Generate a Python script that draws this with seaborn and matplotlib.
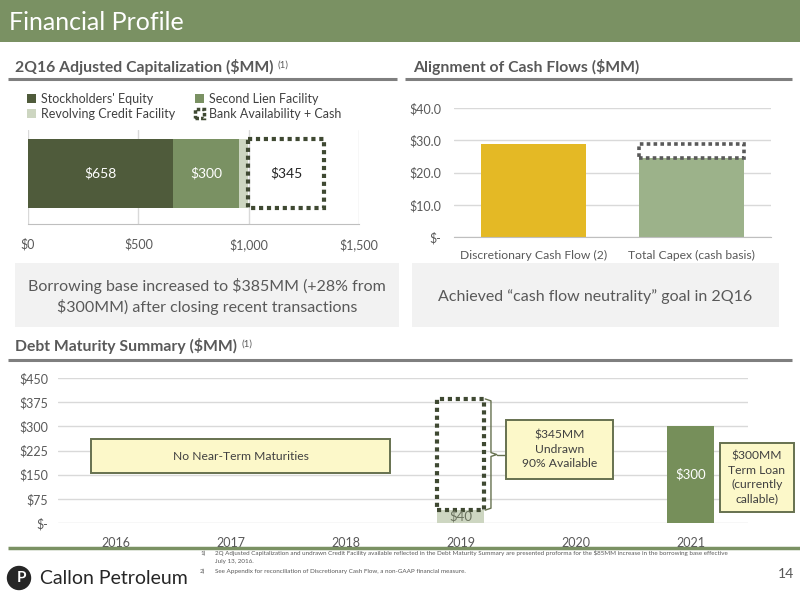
import numpy as np
import pandas as pd
import matplotlib
matplotlib.use("Agg")
import matplotlib.pyplot as plt
import seaborn as sns
from matplotlib.patches import Rectangle, Patch, Circle

# ---------------- data ----------------
cap_series = ["Stockholders' Equity", "Second Lien Facility",
              "Revolving Credit Facility", "Bank Availability + Cash"]
cap_values = [658, 300, 40, 345]
cap_ticks = [0, 500, 1000, 1500]
cap_tick_labels = ["$0", "$500", "$1,000", "$1,500"]

cf_categories = ["Discretionary Cash Flow (2)", "Total Capex (cash basis)"]
cf_values = [28.8, 24.5]
cf_ticks = [0, 10, 20, 30, 40]
cf_tick_labels = ["$-", "$10.0", "$20.0", "$30.0", "$40.0"]

debt_years = ["2016", "2017", "2018", "2019", "2020", "2021"]
debt_revolver = [0, 0, 0, 40, 0, 0]
debt_undrawn = [0, 0, 0, 345, 0, 0]
debt_term_loan = [0, 0, 0, 0, 0, 300]
debt_ticks = [0, 75, 150, 225, 300, 375, 450]
debt_tick_labels = ["$-", "$75", "$150", "$225", "$300", "$375", "$450"]

# ---------------- style ----------------
sns.set_style("white")
plt.rcParams["font.family"] = ["Lato", "DejaVu Sans"]

GREEN = "#7A9163"
EQUITY = "#4F5B3B"
REVOLVER = "#CDD6C1"
DOT = "#3F4932"
YELLOW = "#E4B925"
SAGE = "#9CB28A"
TERM = "#768F5A"
TXT = "#595959"
GRID = "#D9D9D9"
CALL_FILL = "#FCF8C9"
CALL_EDGE = "#66714F"
DOTSTYLE = (0, (1, 0.9))

W, H = 800, 600
fig = plt.figure(figsize=(8, 6), dpi=100)


def rect(x0, y0, x1, y1):
    return [x0 / W, 1 - y1 / H, (x1 - x0) / W, (y1 - y0) / H]


# background / foreground pixel-space axes
bg = fig.add_axes([0, 0, 1, 1], zorder=0)
bg.set_xlim(0, W); bg.set_ylim(H, 0); bg.axis("off")
fg = fig.add_axes([0, 0, 1, 1], zorder=10)
fg.set_xlim(0, W); fg.set_ylim(H, 0); fg.axis("off"); fg.patch.set_alpha(0)

# header band
bg.add_patch(Rectangle((0, 0), W, 42, color=GREEN, lw=0))
bg.text(9, 22, "Financial Profile", color="white", fontsize=18, va="center")

# section headings
def heading(x, y, s):
    t = bg.text(x, y, s, fontsize=11.3, fontweight="bold", color=TXT, va="center")
    return t

t1 = heading(15, 67, "2Q16 Adjusted Capitalization ($MM)")
bg.annotate("(1)", xy=(1, 1), xycoords=t1, xytext=(3, -1), textcoords="offset points",
            fontsize=7, color=TXT, va="top")
heading(413, 67, "Alignment of Cash Flows ($MM)")
t3 = heading(15, 346, "Debt Maturity Summary ($MM)")
bg.annotate("(1)", xy=(1, 1), xycoords=t3, xytext=(3, -1), textcoords="offset points",
            fontsize=7, color=TXT, va="top")
bg.plot([8, 397], [79, 79], color="#7F7F7F", lw=2.2, solid_capstyle="butt")
bg.plot([405, 792], [79, 79], color="#7F7F7F", lw=2.2, solid_capstyle="butt")
bg.plot([8, 792], [360, 360], color="#7F7F7F", lw=2.2, solid_capstyle="butt")

# grey message boxes
bg.add_patch(Rectangle((15, 263), 384, 64, color="#F2F2F2", lw=0))
bg.add_patch(Rectangle((412, 263), 367, 64, color="#F2F2F2", lw=0))
bg.text(207, 286, "Borrowing base increased to $385MM (+28% from", fontsize=11.5,
        color=TXT, ha="center", va="center")
bg.text(207, 307, "$300MM) after closing recent transactions", fontsize=11.5,
        color=TXT, ha="center", va="center")
bg.text(595, 297, "Achieved \u201ccash flow neutrality\u201d goal in 2Q16", fontsize=11.5,
        color=TXT, ha="center", va="center")

# ---------------- chart 1: capitalization ----------------
ax1 = fig.add_axes(rect(28, 130, 359, 224), zorder=2)
ax1.patch.set_alpha(0)
cap_colors = [EQUITY, GREEN, REVOLVER, DOT]
lefts = np.concatenate([[0], np.cumsum(cap_values)[:-1]])
for i, (v, l, c) in enumerate(zip(cap_values, lefts, cap_colors)):
    if i == 3:
        sns.barplot(x=[v], y=["2Q16"], orient="h", left=l, fill=False, color=c,
                    linestyle=DOTSTYLE, linewidth=3, width=0.8, ax=ax1)
    else:
        sns.barplot(x=[v], y=["2Q16"], orient="h", left=l, color=c, saturation=1,
                    width=0.8, ax=ax1, linewidth=0)
label_colors = ["white", "white", None, "#262626"]
for cont, v, lc in zip(ax1.containers, cap_values, label_colors):
    if lc is not None:
        ax1.bar_label(cont, labels=[f"${v}"], label_type="center", color=lc, fontsize=10)
ax1.set_xlim(0, 1500)
ax1.set_ylim(0.585, -0.504)
ax1.set_xticks(cap_ticks, cap_tick_labels)
ax1.set_yticks([])
ax1.set_xlabel(""); ax1.set_ylabel("")
ax1.grid(axis="x", color=GRID, lw=1)
ax1.set_axisbelow(True)
for s in ["top", "right", "left"]:
    ax1.spines[s].set_visible(False)
ax1.spines["bottom"].set_color("#BFBFBF")
ax1.tick_params(axis="x", length=0, pad=10, labelsize=9, labelcolor=TXT)

h_eq = Patch(facecolor=EQUITY, edgecolor="none")
h_rv = Patch(facecolor=REVOLVER, edgecolor="none")
h_sl = Patch(facecolor=GREEN, edgecolor="none")
h_bk = Patch(facecolor="none", edgecolor=DOT, linestyle=(0, (1, 0.6)), lw=2.5)
leg_kw = dict(loc="upper left", frameon=False, fontsize=9, handlelength=0.75,
              handleheight=0.75, handletextpad=0.4, labelspacing=0.25,
              borderaxespad=0, borderpad=0, labelcolor="#404040")
fig.legend([h_eq, h_rv], [cap_series[0], cap_series[2]],
           bbox_to_anchor=(27 / W, 1 - 93 / H), **leg_kw)
fig.legend([h_sl, h_bk], [cap_series[1], cap_series[3]],
           bbox_to_anchor=(195 / W, 1 - 93 / H), **leg_kw)

# ---------------- chart 2: cash flows ----------------
ax2 = fig.add_axes(rect(454, 108, 771, 237), zorder=2)
ax2.patch.set_alpha(0)
sns.barplot(x=cf_categories, y=cf_values, hue=cf_categories, palette=[YELLOW, SAGE],
            legend=False, saturation=1, width=0.66, ax=ax2, linewidth=0)
sns.barplot(x=[cf_categories[1]], y=[cf_values[0] - cf_values[1]], bottom=cf_values[1],
            order=cf_categories, fill=False, color="#595959", linestyle=DOTSTYLE,
            linewidth=2.6, width=0.66, ax=ax2)
ax2.set_ylim(0, 40)
ax2.set_xlim(-0.5, 1.5)
ax2.set_yticks(cf_ticks, cf_tick_labels)
ax2.set_xticks(range(len(cf_categories)), cf_categories)
ax2.set_xticks([-0.5, 0.5, 1.5], minor=True)
ax2.set_xlabel(""); ax2.set_ylabel("")
ax2.grid(axis="y", color=GRID, lw=1)
ax2.set_axisbelow(True)
for s in ["top", "right", "left"]:
    ax2.spines[s].set_visible(False)
ax2.spines["bottom"].set_color("#BFBFBF")
ax2.tick_params(axis="x", which="major", length=0, pad=9, labelsize=8.7, labelcolor=TXT)
ax2.tick_params(axis="x", which="minor", length=4, color="#BFBFBF", direction="out")
ax2.tick_params(axis="y", length=0, pad=9, labelsize=9, labelcolor=TXT)

# ---------------- chart 3: debt maturity ----------------
ax3 = fig.add_axes(rect(58, 378, 748, 523), zorder=2)
ax3.patch.set_alpha(0)
debt = pd.DataFrame({"year": debt_years, "revolver": debt_revolver,
                     "undrawn": debt_undrawn, "term": debt_term_loan})
bw = 0.41
rv = debt[debt.revolver > 0]
sns.barplot(data=rv, x="year", y="revolver", order=debt_years, color=REVOLVER,
            saturation=1, width=bw, ax=ax3, linewidth=0)
ud = debt[debt.undrawn > 0]
sns.barplot(data=ud, x="year", y="undrawn", order=debt_years, bottom=ud.revolver.values,
            fill=False, color=DOT, linestyle=DOTSTYLE, linewidth=3, width=bw, ax=ax3)
tl = debt[debt.term > 0]
sns.barplot(data=tl, x="year", y="term", order=debt_years, color=TERM,
            saturation=1, width=bw, ax=ax3, linewidth=0)
ax3.bar_label(ax3.containers[0], labels=[f"${v}" for v in rv.revolver],
              label_type="center", color="#6B735F", fontsize=9.5)
ax3.bar_label(ax3.containers[2], labels=[f"${v}" for v in tl.term],
              label_type="center", color="white", fontsize=9.5)
ax3.set_ylim(0, 450)
ax3.set_xlim(-0.5, 5.5)
ax3.set_yticks(debt_ticks, debt_tick_labels)
ax3.set_xlabel(""); ax3.set_ylabel("")
ax3.grid(axis="y", color=GRID, lw=1)
ax3.set_axisbelow(True)
for s in ["top", "right", "left", "bottom"]:
    ax3.spines[s].set_visible(False)
ax3.tick_params(axis="x", length=0, pad=10, labelsize=9, labelcolor=TXT)
ax3.tick_params(axis="y", length=0, pad=7, labelsize=9, labelcolor=TXT)

# bracket next to undrawn box
i19 = debt_years.index("2019")
y_lo = debt_revolver[i19]
y_hi = debt_revolver[i19] + debt_undrawn[i19]
y_mid = (y_lo + y_hi) / 2
x0 = i19 + bw / 2 + 0.01
xm = x0 + 0.05
xt = xm + 0.05
ax3.plot([x0, xm, xm, xt, xm, xm, x0],
         [y_hi, y_hi - 6, y_mid + 6, y_mid, y_mid - 6, y_lo + 6, y_lo],
         color=CALL_EDGE, lw=1, clip_on=False)
ax3.plot([xt, xt + 0.08], [y_mid, y_mid], color=CALL_EDGE, lw=1, clip_on=False)

# callout boxes
def callout(x0, y0, x1, y1, s, fs=8.7):
    fg.add_patch(Rectangle((x0, y0), x1 - x0, y1 - y0, facecolor=CALL_FILL,
                           edgecolor=CALL_EDGE, lw=1.4))
    fg.text((x0 + x1) / 2, (y0 + y1) / 2, s, ha="center", va="center",
            fontsize=fs, color="#404040", linespacing=1.35)

callout(91, 439, 390, 473, "No Near-Term Maturities")
callout(506, 420, 613, 479, "$345MM\nUndrawn\n90% Available")
callout(720, 443, 794, 512, "$300MM\nTerm Loan\n(currently\ncallable)")

# ---------------- footer ----------------
bg.plot([8, 800], [548, 548], color=GREEN, lw=2.5, solid_capstyle="butt")
fn = dict(fontsize=4.5, color=TXT, va="center")
bg.text(200, 553, "1)", **fn)
bg.text(215, 553, "2Q Adjusted Capitalization and undrawn Credit Facility available reflected in the "
        "Debt Maturity Summary are presented proforma for the $85MM increase in the borrowing base effective", **fn)
bg.text(215, 561, "July 13, 2016.", **fn)
bg.text(200, 571, "2)", **fn)
bg.text(215, 571, "See Appendix for reconciliation of Discretionary Cash Flow, a non-GAAP financial measure.", **fn)
bg.add_patch(Circle((19, 578), 11.5, color="#262626"))
bg.text(21, 578.5, "P", color="white", fontsize=11, fontweight="bold", ha="center", va="center")
bg.text(40, 578, "Callon Petroleum", fontsize=14, color="#262626", va="center")
bg.text(786, 574, "14", fontsize=10, color=TXT, ha="center", va="center")

fig.savefig("out.png", dpi=100)
